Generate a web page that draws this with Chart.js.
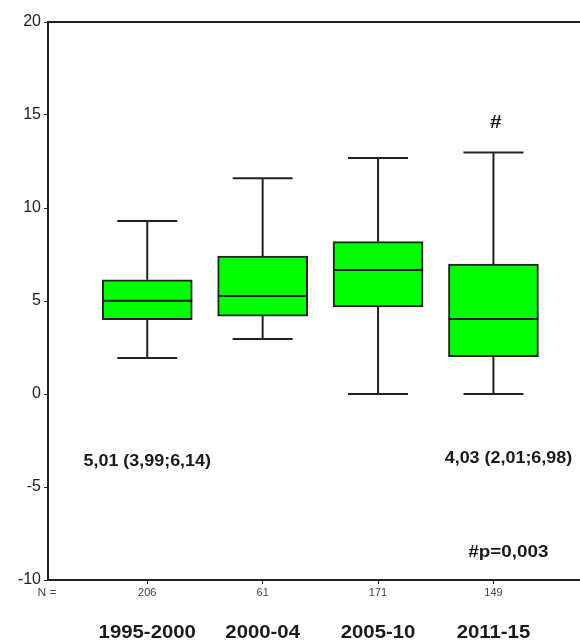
<!DOCTYPE html>
<html>
<head>
<meta charset="utf-8">
<script src="https://cdn.jsdelivr.net/npm/chart.js@4"></script>
<style>
  html, body { margin: 0; padding: 0; background: #fff; }
  #wrap { width: 580px; height: 642px; }
</style>
</head>
<body>
<div id="wrap"><canvas id="chart" width="580" height="642"></canvas></div>
<script>
// data
const periods = ["1995-2000", "2000-04", "2005-10", "2011-15"];
const nCounts = ["206", "61", "171", "149"];
const whiskerLow = [1.94, 2.96, 0.0, 0.0];
const q1 = [3.99, 4.19, 4.68, 2.01];
const median = [5.01, 5.27, 6.66, 4.03];
const q3 = [6.14, 7.42, 8.19, 6.98];
const whiskerHigh = [9.30, 11.60, 12.69, 12.99];
const yTicks = [-10, -5, 0, 5, 10, 15, 20];

// annotation texts
const noteFirst = "5,01 (3,99;6,14)";
const noteLast = "4,03 (2,01;6,98)";
const markLast = "#";
const pNote = "#p=0,003";

const LINE = "#222";
const FONT = "'Liberation Sans', Arial, sans-serif";

function stretchedText(ctx, txt, x, y, font, sx, color) {
  ctx.save();
  ctx.font = font;
  ctx.fillStyle = color || "#1a1a1a";
  ctx.textAlign = "center";
  ctx.textBaseline = "middle";
  ctx.translate(x, y);
  ctx.scale(sx, 1);
  ctx.fillText(txt, 0, 0);
  ctx.restore();
}

const boxExtras = {
  id: "boxExtras",
  beforeDatasetsDraw(chart) {
    const { ctx, scales: { x, y }, chartArea } = chart;
    ctx.save();
    ctx.strokeStyle = LINE;
    ctx.lineWidth = 2;
    // frame top
    ctx.beginPath();
    ctx.moveTo(chartArea.left, y.getPixelForValue(20));
    ctx.lineTo(chartArea.right, y.getPixelForValue(20));
    ctx.stroke();
    periods.forEach((p, i) => {
      const cx = x.getPixelForValue(i + 1);
      const half = 30;
      ctx.beginPath();
      ctx.moveTo(cx, y.getPixelForValue(q3[i]));
      ctx.lineTo(cx, y.getPixelForValue(whiskerHigh[i]));
      ctx.moveTo(cx - half, y.getPixelForValue(whiskerHigh[i]));
      ctx.lineTo(cx + half, y.getPixelForValue(whiskerHigh[i]));
      ctx.moveTo(cx, y.getPixelForValue(q1[i]));
      ctx.lineTo(cx, y.getPixelForValue(whiskerLow[i]));
      ctx.moveTo(cx - half, y.getPixelForValue(whiskerLow[i]));
      ctx.lineTo(cx + half, y.getPixelForValue(whiskerLow[i]));
      ctx.stroke();
    });
    ctx.restore();
  },
  afterDatasetsDraw(chart) {
    const { ctx, scales: { x, y } } = chart;
    const meta = chart.getDatasetMeta(0);
    ctx.save();
    ctx.strokeStyle = LINE;
    ctx.lineWidth = 2;
    meta.data.forEach((bar, i) => {
      const w = bar.width / 2;
      const my = y.getPixelForValue(median[i]);
      ctx.beginPath();
      ctx.moveTo(bar.x - w, my);
      ctx.lineTo(bar.x + w, my);
      ctx.stroke();
    });
    ctx.restore();

    const bold = "bold 16px " + FONT;
    stretchedText(ctx, noteFirst, x.getPixelForValue(1), y.getPixelForValue(-3.65), bold, 1.12);
    stretchedText(ctx, noteLast, x.getPixelForValue(4.13), y.getPixelForValue(-3.45), bold, 1.12);
    stretchedText(ctx, markLast, x.getPixelForValue(4.02), y.getPixelForValue(14.6), "bold 19px " + FONT, 1.1);
    stretchedText(ctx, pNote, x.getPixelForValue(4.13), y.getPixelForValue(-8.55), bold, 1.18);

    // N row and period labels
    stretchedText(ctx, "N =", 47, 593, "11px " + FONT, 1.1, "#444");
    periods.forEach((p, i) => {
      stretchedText(ctx, p, x.getPixelForValue(i + 1), 633, "bold 18px " + FONT, 1.13);
    });
  }
};

new Chart(document.getElementById("chart"), {
  type: "bar",
  data: {
    datasets: [{
      data: periods.map((p, i) => ({ x: i + 1, y: [q1[i], q3[i]] })),
      backgroundColor: "#00ff00",
      borderColor: LINE,
      borderWidth: 2,
      borderSkipped: false,
      barThickness: 90
    }]
  },
  options: {
    responsive: false,
    animation: false,
    layout: { padding: { top: 22, right: 0, left: 0, bottom: 0 } },
    plugins: { legend: { display: false }, tooltip: { enabled: false } },
    scales: {
      x: {
        type: "linear",
        offset: false,
        min: 0.14,
        max: 4.75,
        afterBuildTicks: (s) => { s.ticks = [1, 2, 3, 4].map(v => ({ value: v })); },
        afterFit: (s) => { s.height = 62; },
        ticks: {
          callback: (v, idx) => nCounts[idx],
          color: "#444",
          font: { family: FONT, size: 11 },
          padding: 2,
          maxRotation: 0,
          autoSkip: false
        },
        grid: { offset: false, drawOnChartArea: false, drawTicks: true, tickLength: 4, color: LINE },
        border: { display: true, color: LINE, width: 2 }
      },
      y: {
        min: -10,
        max: 20,
        afterBuildTicks: (s) => { s.ticks = yTicks.map(v => ({ value: v })); },
        afterFit: (s) => { s.width = 48; },
        ticks: {
          color: "#222",
          font: { family: FONT, size: 16 },
          padding: 3
        },
        grid: { drawOnChartArea: false, drawTicks: true, tickLength: 4, color: LINE },
        border: { display: true, color: LINE, width: 2 }
      }
    }
  },
  plugins: [boxExtras]
});
</script>
</body>
</html>
